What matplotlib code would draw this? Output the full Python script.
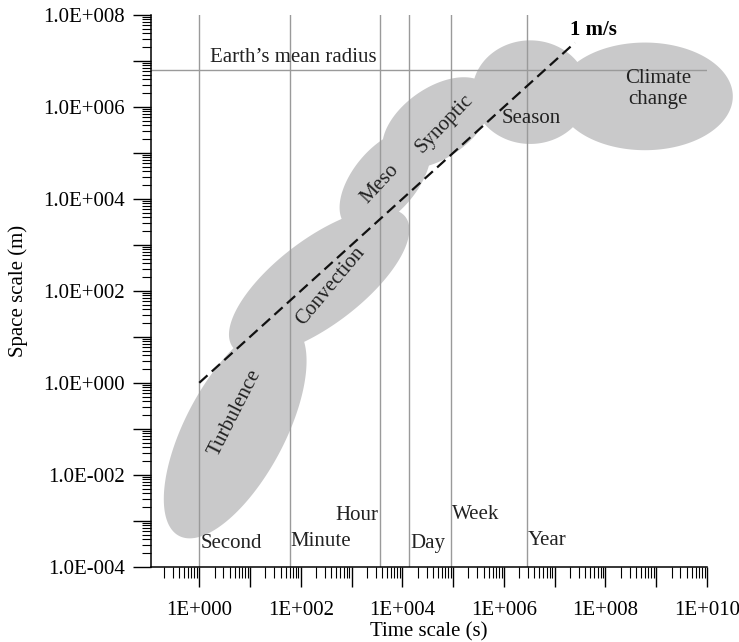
import numpy as np
import matplotlib
matplotlib.use("Agg")
import matplotlib.pyplot as plt
from matplotlib.ticker import FixedLocator, FuncFormatter, LogLocator, NullFormatter

plt.rcParams['font.family'] = ['Liberation Serif', 'DejaVu Serif']

# Time markers (vertical lines), in seconds
mark_names = ["Second", "Minute", "Hour", "Day", "Week", "Year"]
mark_times = [1.0, 60.0, 3600.0, 1.35e4, 9.0e4, 2.9e6]

# Phenomena: centre time (s), centre space (m), half-length / half-width (x decades), tilt (deg)
blob_names = ["Turbulence", "Convection", "Meso", "Synoptic", "Season", "Climate change"]
blob_time = [5.1, 230.0, 4.6e3, 4.8e4, 3.3e6, 6.0e8]
blob_space = [0.094, 155.0, 2.6e4, 4.5e5, 2.1e6, 1.7e6]
blob_long = [2.36, 2.13, 1.18, 1.22, 1.14, 1.73]
blob_wide = [0.98, 0.85, 0.63, 0.69, 1.02, 1.06]
blob_tilt = [62, 37, 50, 35, 0, 0]

earth_radius = 6.37e6
speed_line_t = [1.0, 2.5e7]  # 1 m/s line, space = time

fig = plt.figure(figsize=(7.39, 6.42), dpi=100)
ax = fig.add_axes([0.2043, 0.1173, 0.7524, 0.8593])
ax.set_xscale('log')
ax.set_yscale('log')
ax.set_xlim(0.112, 1e10)
ax.set_ylim(1e-4, 1e8)

# pixels per decade, to keep the blobs' shapes right on screen
bb = ax.get_position()
kx = bb.width * 739 / np.log10(1e10 / 0.112)
ky = bb.height * 642 / 12.0

grey = '#c9c9ca'
t = np.linspace(0, 2 * np.pi, 300)
for tc, sc, a, b, ang in zip(blob_time, blob_space, blob_long, blob_wide, blob_tilt):
    th = np.radians(ang)
    dx = (a * np.cos(t) * np.cos(th) - b * np.sin(t) * np.sin(th)) * kx
    dy = (a * np.cos(t) * np.sin(th) + b * np.sin(t) * np.cos(th)) * kx
    lx = np.log10(tc) + dx / kx
    ly = np.log10(sc) + dy / ky
    ax.fill(10 ** lx, 10 ** ly, color=grey, lw=0, zorder=1, clip_on=False)

line_col = '#9a9a9a'
for tm in mark_times:
    ax.axvline(tm, color=line_col, lw=1.0, zorder=2)
ax.axhline(earth_radius, color=line_col, lw=1.0, zorder=2)
ax.text(1.65, earth_radius * 1.15, "Earth\u2019s mean radius", fontsize=15, va='bottom', ha='left', color='#222222')

ax.plot(speed_line_t, speed_line_t, color='#111111', lw=1.6, dashes=(5, 2.6), zorder=3)
ax.text(2.0e7, 4.7e7, "1 m/s", fontsize=15, fontweight='bold', ha='left', va='center')

# time marker labels
mark_lab_x = [1.08, 62.0, 3400.0, 1.45e4, 9.6e4, 3.0e6]
mark_lab_y = [3.2e-4, 3.5e-4, 1.3e-3, 3.2e-4, 1.35e-3, 3.8e-4]
mark_ha = ['left', 'left', 'right', 'left', 'left', 'left']
for name, x, y, ha in zip(mark_names, mark_lab_x, mark_lab_y, mark_ha):
    ax.text(x, y, name, fontsize=15, ha=ha, va='center', color='#222222')

# blob labels
lab_x = [5.1, 379.0, 3.66e3, 6.65e4, 3.43e6, 1.08e9]
lab_y = [0.22, 127.0, 2.1e4, 4.26e5, 5.5e5, 2.45e6]
lab_rot = [63, 50, 47, 46, 0, 0]
lab_txt = ["Turbulence", "Convection", "Meso", "Synoptic", "Season", "Climate\nchange"]
for x, y, r, s in zip(lab_x, lab_y, lab_rot, lab_txt):
    ax.text(x, y, s, fontsize=15, rotation=r, ha='center', va='center',
            rotation_mode='anchor', color='#222222', linespacing=1.2, zorder=4)

# axes styling
ax.spines[['right', 'top']].set_visible(False)
ax.xaxis.set_major_locator(FixedLocator([10.0 ** k for k in range(0, 11)]))
ax.xaxis.set_major_formatter(FuncFormatter(
    lambda v, p: "1E+%03d" % round(np.log10(v)) if round(np.log10(v)) % 2 == 0 else ""))
ax.xaxis.set_minor_locator(LogLocator(base=10, subs=np.arange(2, 10), numticks=30))
ax.xaxis.set_minor_formatter(NullFormatter())
ax.yaxis.set_major_locator(FixedLocator([10.0 ** k for k in range(-4, 9)]))
ax.yaxis.set_major_formatter(FuncFormatter(
    lambda v, p: ("1.0E%+04d" % round(np.log10(v))) if round(np.log10(v)) % 2 == 0 else ""))
ax.yaxis.set_minor_locator(LogLocator(base=10, subs=np.arange(2, 10), numticks=30))
ax.yaxis.set_minor_formatter(NullFormatter())
ax.tick_params(axis='x', which='major', direction='out', length=14.5, width=1, labelsize=15, pad=10)
ax.tick_params(axis='x', which='minor', direction='out', length=8, width=0.8)
ax.tick_params(axis='y', which='major', direction='out', length=13, width=1, labelsize=15, pad=6)
ax.tick_params(axis='y', which='minor', direction='out', length=6.5, width=0.8)
for s in ['left', 'bottom']:
    ax.spines[s].set_linewidth(1.1)

ax.set_xlabel("Time scale (s)", fontsize=15, labelpad=2)
ax.set_ylabel("Space scale (m)", fontsize=15, labelpad=11)

fig.savefig("out.png", dpi=100)
